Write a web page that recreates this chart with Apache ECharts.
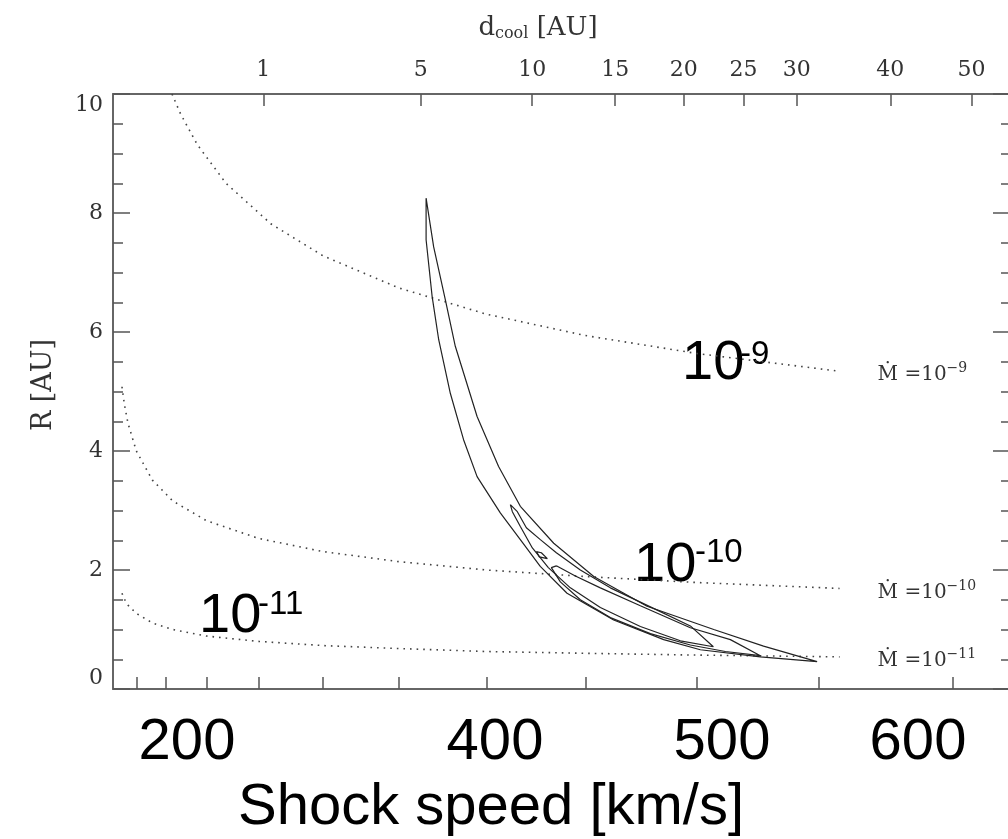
<!DOCTYPE html>
<html>
<head>
<meta charset="utf-8">
<script src="https://cdn.jsdelivr.net/npm/echarts@6/dist/echarts.min.js"></script>
<style>html,body{margin:0;padding:0;background:#fff}#main{width:1008px;height:839px}</style>
</head>
<body>
<div id="main"></div>
<script>
// bottom axis ticks, shock speed [km/s] (axis is linear in speed^2)
var speedTicks = [100, 150, 200, 250, 300, 350, 400, 450, 500, 550, 600];
var speedLabels = ['200', '400', '500', '600'];
// top axis ticks, cooling distance [AU]
var dcoolTicks = [1, 5, 10, 15, 20, 25, 30, 40, 50];
// d_cool = (v / dcoolV1) ^ dcoolIndex
var dcoolV1 = 253.8, dcoolIndex = 4.49;
var speedMax = 620;

// dotted curves of constant Mdot: [shock speed, R]
var mdot9 = [[159, 10.0], [170, 9.67], [190, 9.15], [220, 8.5], [260, 7.82], [300, 7.28], [350, 6.74],
	[400, 6.30], [450, 5.94], [500, 5.64], [558, 5.34]];
var mdot10 = [[62, 5.08], [70, 4.78], [80, 4.47], [100, 4.0], [130, 3.51], [160, 3.16], [200, 2.83],
	[250, 2.53], [300, 2.31], [350, 2.14], [400, 2.0], [450, 1.89], [500, 1.79], [558, 1.69]];
var mdot11 = [[62, 1.61], [70, 1.51], [80, 1.41], [100, 1.27], [130, 1.11], [160, 1.0], [200, 0.89],
	[250, 0.80], [300, 0.73], [350, 0.68], [400, 0.63], [450, 0.60], [500, 0.57], [558, 0.54]];
var mdotNames = ['\u22129', '\u221210', '\u221211'];

// contours: [shock speed, R]
var contourOuter = [[366.3, 8.25], [370.7, 7.43], [377.4, 6.54], [383.0, 5.76], [395.0, 4.58], [406.5, 3.74],
	[417.8, 3.07], [434.6, 2.45], [453.9, 1.89], [478.4, 1.39], [507.4, 1.00], [528.0, 0.72], [549.3, 0.46],
	[526.7, 0.54], [501.7, 0.66], [485.8, 0.83], [463.2, 1.16], [441.1, 1.61], [427.9, 2.06], [417.8, 2.51],
	[407.4, 2.96], [395.0, 3.57], [387.6, 4.19], [380.2, 4.97], [373.6, 5.87], [369.8, 6.60], [366.3, 7.55],
	[366.3, 8.25]];
var contourInner = [[412.65, 3.10], [416.27, 2.98], [420.88, 2.71], [427.94, 2.51], [435.88, 2.29], [447.52, 2.00],
	[461.67, 1.70], [479.87, 1.38], [497.41, 1.06], [507.23, 0.71], [493.09, 0.81], [475.39, 1.05], [457.00, 1.37],
	[442.71, 1.70], [431.93, 2.04], [423.92, 2.37], [417.81, 2.73], [413.69, 2.98], [412.65, 3.10]];
var contourSpot = [[425.94, 2.31], [428.44, 2.29], [431.43, 2.19], [430.44, 2.16], [427.44, 2.22], [425.94, 2.31]];
var contourCore = [[435.88, 2.07], [445.12, 1.90], [457.00, 1.70], [475.39, 1.40], [497.41, 1.03], [514.36, 0.83],
	[526.71, 0.56], [512.27, 0.63], [497.41, 0.74], [479.87, 0.93], [461.67, 1.20], [447.52, 1.50], [437.84, 1.80],
	[433.42, 2.04], [435.88, 2.07]];

function sq(p) { return [p[0] * p[0], p[1]]; }
function dcoolToSpeed(d) { return dcoolV1 * Math.pow(d, 1 / dcoolIndex); }

var topValues = dcoolTicks.map(function (d) { var v = dcoolToSpeed(d); return v * v; });

var axisColor = '#666';
var tickStyle = { color: '#555', width: 1.5 };
var serif = 'DejaVu Serif';
var sans = 'Liberation Sans';

var myChart = echarts.init(document.getElementById('main'));

var contourSeries = [contourOuter, contourInner, contourSpot, contourCore].map(function (c) {
	return {
		type: 'line',
		data: c.map(sq),
		symbol: 'none',
		silent: true,
		lineStyle: { color: '#222', width: 1.2 }
	};
});

var curveSeries = [mdot9, mdot10, mdot11].map(function (c, i) {
	return {
		type: 'line',
		data: c.map(sq),
		symbol: 'none',
		silent: true,
		lineStyle: { color: '#444', width: 1.6, type: [1.6, 5] },
		endLabel: {
			show: true,
			distance: 38,
			offset: [0, 4],
			formatter: '{m|\u1E40 =10}{s|' + mdotNames[i] + '}',
			rich: {
				m: { fontFamily: serif, fontSize: 20, color: '#333' },
				s: { fontFamily: serif, fontSize: 14, color: '#333', padding: [0, 0, 13, 0] }
			}
		}
	};
});

function bigText(x, y, txt, size, va) {
	return { type: 'text', x: x, y: y, style: { text: txt, verticalAlign: va, fontFamily: sans, fontSize: size, fill: '#000' } };
}

option = {
	animation: false,
	// the frame runs just past the right edge of the picture
	grid: { left: 113, top: 94, width: 897, height: 595, outerBoundsMode: 'none' },
	xAxis: [
		{
			type: 'value',
			min: 0,
			max: speedMax * speedMax,
			axisLine: { show: true, onZero: false, lineStyle: { color: axisColor, width: 2 } },
			axisTick: { show: true, inside: true, length: 12, customValues: speedTicks.map(function (v) { return v * v; }), lineStyle: tickStyle },
			axisLabel: { show: false },
			splitLine: { show: false }
		},
		{
			type: 'value',
			position: 'top',
			min: 0,
			max: speedMax * speedMax,
			axisLine: { show: true, onZero: false, lineStyle: { color: axisColor, width: 2 } },
			axisTick: { show: true, inside: true, length: 12, customValues: topValues, lineStyle: tickStyle },
			axisLabel: {
				customValues: topValues,
				margin: 13,
				fontFamily: serif,
				fontSize: 22,
				color: '#333',
				formatter: function (val) {
					var best = 0;
					for (var i = 0; i < topValues.length; i++) {
						if (Math.abs(topValues[i] - val) < Math.abs(topValues[best] - val)) best = i;
					}
					return String(dcoolTicks[best]);
				}
			},
			splitLine: { show: false }
		}
	],
	yAxis: [
		{
			type: 'value',
			min: 0,
			max: 10,
			interval: 2,
			axisLine: { show: true, onZero: false, lineStyle: { color: axisColor, width: 2 } },
			axisTick: { show: true, inside: true, length: 17, lineStyle: tickStyle },
			minorTick: { show: true, splitNumber: 4, length: 10, lineStyle: tickStyle },
			axisLabel: { margin: 10, fontFamily: serif, fontSize: 22, color: '#333',
				verticalAlignMinLabel: 'bottom', verticalAlignMaxLabel: 'top' },
			splitLine: { show: false }
		},
		{
			type: 'value',
			position: 'right',
			min: 0,
			max: 10,
			interval: 2,
			axisLine: { show: true, onZero: false, lineStyle: { color: axisColor, width: 2 } },
			axisTick: { show: true, inside: true, length: 17, lineStyle: tickStyle },
			minorTick: { show: true, splitNumber: 4, length: 9, lineStyle: tickStyle },
			axisLabel: { show: false },
			splitLine: { show: false }
		}
	],
	series: curveSeries.concat(contourSeries),
	graphic: [
		{ type: 'text', x: 538, y: 28, style: { text: '{a|d}{b|cool}{a| [AU]}', align: 'center', verticalAlign: 'middle',
			rich: { a: { fontFamily: serif, fontSize: 26, fill: '#333' }, b: { fontFamily: serif, fontSize: 16, fill: '#333', padding: [12, 0, 0, 0] } } } },
		{ type: 'text', x: 44, y: 385, rotation: Math.PI / 2, style: { text: 'R [AU]', align: 'center', verticalAlign: 'middle', fontFamily: serif, fontSize: 27, fill: '#333' } },
		{ type: 'text', x: 187, y: 743, style: { text: speedLabels[0], align: 'center', verticalAlign: 'middle', fontFamily: sans, fontSize: 58, fill: '#000' } },
		{ type: 'text', x: 495, y: 743, style: { text: speedLabels[1], align: 'center', verticalAlign: 'middle', fontFamily: sans, fontSize: 58, fill: '#000' } },
		{ type: 'text', x: 722, y: 743, style: { text: speedLabels[2], align: 'center', verticalAlign: 'middle', fontFamily: sans, fontSize: 58, fill: '#000' } },
		{ type: 'text', x: 918, y: 743, style: { text: speedLabels[3], align: 'center', verticalAlign: 'middle', fontFamily: sans, fontSize: 58, fill: '#000' } },
		{ type: 'text', x: 491, y: 808, style: { text: 'Shock speed [km/s]', align: 'center', verticalAlign: 'middle', fontFamily: sans, fontSize: 58, fill: '#000' } },
		// big annotations near the curves
		bigText(682, 364, '10', 56, 'middle'),
		bigText(740, 338, '-9', 33, 'top'),
		bigText(634, 566, '10', 56, 'middle'),
		bigText(695, 536, '-10', 33, 'top'),
		bigText(199, 617, '10', 56, 'middle'),
		bigText(258, 588, '-11', 33, 'top')
	]
};
myChart.setOption(option);
</script>
</body>
</html>
